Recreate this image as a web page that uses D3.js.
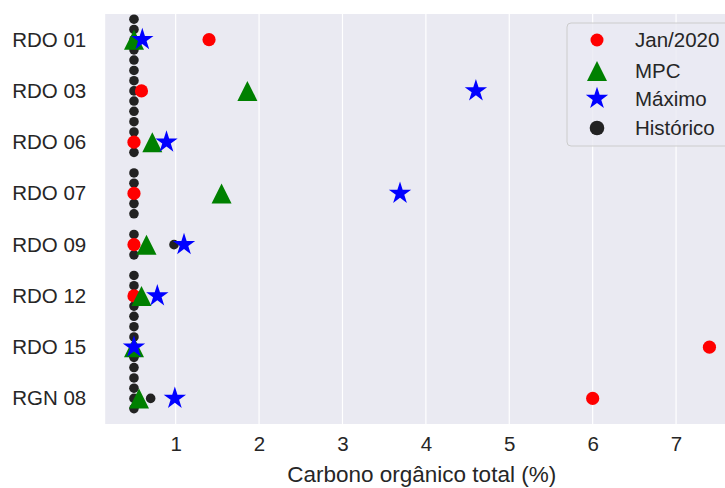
<!DOCTYPE html>
<html>
<head>
<meta charset="utf-8">
<script src="https://cdn.jsdelivr.net/npm/d3@7"></script>
<style>
  html, body { margin: 0; padding: 0; background: #fff; }
  svg { display: block; }
  text { font-family: "Liberation Sans", Arial, sans-serif; fill: #262626; }
</style>
</head>
<body>
<svg id="chart" width="725" height="488"></svg>
<script>
// pontos de coleta
const pontos = ["RDO 01", "RDO 03", "RDO 06", "RDO 07", "RDO 09", "RDO 12", "RDO 15", "RGN 08"];

// valores (%)
const jan2020 = [1.40, 0.59, 0.50, 0.50, 0.50, 0.50, 7.40, 6.00];
const mpc     = [0.50, 1.86, 0.72, 1.55, 0.65, 0.59, 0.50, 0.56];
const maximo  = [0.60, 4.60, 0.89, 3.69, 1.10, 0.78, 0.50, 0.99];

// histórico por ponto (valores repetidos no limite de detecção)
const historico = [
  [0.5, 0.5, 0.5, 0.5, 0.5],
  [0.5, 0.5, 0.5, 0.5, 0.5],
  [0.5, 0.5, 0.5, 0.5],
  [0.5, 0.5, 0.5, 0.5, 0.5],
  [0.5, 0.5, 0.5, 0.98],
  [0.5, 0.5, 0.5, 0.5, 0.5],
  [0.5, 0.5, 0.5, 0.5, 0.5],
  [0.5, 0.5, 0.5, 0.5, 0.70]
];

const xTicks = [1, 2, 3, 4, 5, 6, 7];
const legendLabels = ["Jan/2020", "MPC", "Máximo", "Histórico"];

/* ---------------- escalas ---------------- */
const svg = d3.select("#chart");
const plot = { left: 105.2, right: 738.2, top: 14, bottom: 424 };

const x = d3.scaleLinear().domain([0.155, 7.745]).range([plot.left, plot.right]);
const y = d3.scalePoint().domain(pontos).range([plot.top, plot.bottom]).padding(0.5);

// fundo estilo seaborn darkgrid
svg.append("rect")
  .attr("x", plot.left).attr("y", plot.top)
  .attr("width", plot.right - plot.left).attr("height", plot.bottom - plot.top)
  .attr("fill", "#EAEAF2");

svg.append("g").selectAll("line")
  .data(xTicks)
  .join("line")
  .attr("x1", d => x(d)).attr("x2", d => x(d))
  .attr("y1", plot.top).attr("y2", plot.bottom)
  .attr("stroke", "#fff").attr("stroke-width", 1.2);

/* ---------------- eixos ---------------- */
const xAxis = svg.append("g")
  .attr("transform", `translate(0,${plot.bottom})`)
  .call(d3.axisBottom(x).tickValues(xTicks).tickSize(0).tickPadding(12).tickFormat(d3.format("d")));
xAxis.select(".domain").remove();
xAxis.selectAll("text").style("font-size", "20.5px").attr("fill", "#262626")
  .style("font-family", "'Liberation Sans', Arial, sans-serif");

const yAxis = svg.append("g")
  .attr("transform", `translate(${plot.left},0)`)
  .call(d3.axisLeft(y).tickSize(0).tickPadding(19));
yAxis.select(".domain").remove();
yAxis.selectAll("text").style("font-size", "20.5px").attr("fill", "#262626")
  .style("font-family", "'Liberation Sans', Arial, sans-serif");

svg.append("text")
  .attr("x", (plot.left + plot.right) / 2)
  .attr("y", 482)
  .attr("text-anchor", "middle")
  .style("font-size", "22.5px")
  .text("Carbono orgânico total (%)");

/* ---------------- swarm do histórico ---------------- */
const D = 10.2; // distância entre pontos
const histPts = [];
historico.forEach((vals, i) => {
  const placed = [];
  vals.slice().sort((a, b) => a - b).forEach(v => {
    const px = x(v);
    const blocks = [];
    placed.forEach(p => {
      const dx = Math.abs(p.px - px);
      if (dx < D) {
        const h = Math.sqrt(D * D - dx * dx);
        blocks.push([p.oy - h, p.oy + h]);
      }
    });
    const cands = [0];
    blocks.forEach(b => cands.push(b[0], b[1]));
    cands.sort((a, b) => Math.abs(a) - Math.abs(b) || a - b);
    const oy = cands.find(c => blocks.every(b => c <= b[0] + 1e-6 || c >= b[1] - 1e-6));
    placed.push({ px, oy });
    histPts.push({ v, cat: pontos[i], oy });
  });
});

svg.append("g").selectAll("circle")
  .data(histPts)
  .join("circle")
  .attr("cx", d => x(d.v))
  .attr("cy", d => y(d.cat) + d.oy)
  .attr("r", 4.8)
  .attr("fill", "#222");

/* ---------------- marcadores ---------------- */
const tri = s => `M0,${-s}L${s},${s}L${-s},${s}Z`;
const star = d3.symbol().type(d3.symbolStar).size(155);

svg.append("g").selectAll("circle")
  .data(jan2020)
  .join("circle")
  .attr("cx", d => x(d))
  .attr("cy", (d, i) => y(pontos[i]))
  .attr("r", 6.6)
  .attr("fill", "red");

svg.append("g").selectAll("path")
  .data(mpc)
  .join("path")
  .attr("transform", (d, i) => `translate(${x(d)},${y(pontos[i])})`)
  .attr("d", tri(10))
  .attr("fill", "green");

svg.append("g").selectAll("path")
  .data(maximo)
  .join("path")
  .attr("transform", (d, i) => `translate(${x(d)},${y(pontos[i])})`)
  .attr("d", star())
  .attr("fill", "blue");

/* ---------------- legenda ---------------- */
const leg = svg.append("g");
leg.append("rect")
  .attr("x", 567).attr("y", 23).attr("width", 164).attr("height", 123).attr("rx", 4)
  .attr("fill", "#EAEAF2").attr("fill-opacity", 0.8)
  .attr("stroke", "#cccccc").attr("stroke-width", 1);

const rowY = [40, 71, 98.5, 128];
const items = leg.selectAll("g.item")
  .data(legendLabels)
  .join("g")
  .attr("class", "item")
  .attr("transform", (d, i) => `translate(597,${rowY[i]})`);

items.each(function (d, i) {
  const g = d3.select(this);
  if (i === 0) g.append("circle").attr("r", 6.5).attr("fill", "red");
  if (i === 1) g.append("path").attr("d", tri(10)).attr("fill", "green");
  if (i === 2) g.append("path").attr("d", star()).attr("fill", "blue");
  if (i === 3) g.append("circle").attr("r", 7.3).attr("fill", "#222");
});

items.append("text")
  .attr("x", 38)
  .attr("dy", "0.35em")
  .style("font-size", "20.5px")
  .text(d => d);
</script>
</body>
</html>
